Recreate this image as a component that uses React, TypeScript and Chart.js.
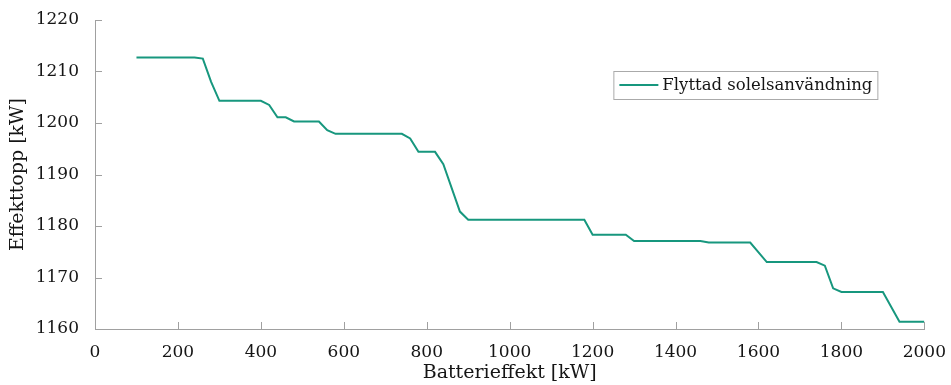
import React, { useEffect, useRef } from "react";
import { Chart, registerables } from "chart.js";

Chart.register(...registerables);

const batteryPower = [100, 240, 260, 280, 300, 400, 420, 440, 460, 480, 540, 560, 580, 740, 760, 780, 820, 840, 880, 900, 1180, 1200, 1280, 1300, 1460, 1480, 1580, 1620, 1740, 1760, 1780, 1800, 1900, 1940, 2000];
const peakPower = [1212.7, 1212.7, 1212.5, 1208, 1204.3, 1204.3, 1203.5, 1201.1, 1201.1, 1200.3, 1200.3, 1198.6, 1197.9, 1197.9, 1197.0, 1194.4, 1194.4, 1192.0, 1182.8, 1181.2, 1181.2, 1178.3, 1178.3, 1177.1, 1177.1, 1176.8, 1176.8, 1173.0, 1173.0, 1172.3, 1167.9, 1167.2, 1167.2, 1161.4, 1161.4];
const seriesLabel = "Flyttad solelsanvändning";
const xTitle = "Batterieffekt [kW]";
const yTitle = "Effekttopp [kW]";

const FONT = "'DejaVu Serif', serif";
const LINE_COLOR = "#17977e";
const AXIS_COLOR = "#a0a0a0";
const TEXT_COLOR = "#151515";

const innerTicksPlugin = {
  id: "innerTicks",
  afterDraw(chart: any) {
    const { ctx, chartArea } = chart;
    const xs = chart.scales.x;
    const ys = chart.scales.y;
    ctx.save();
    ctx.strokeStyle = AXIS_COLOR;
    ctx.lineWidth = 1;
    ctx.beginPath();
    xs.ticks.forEach((t: any) => {
      const px = Math.round(xs.getPixelForValue(t.value)) + 0.5;
      ctx.moveTo(px, chartArea.bottom);
      ctx.lineTo(px, chartArea.bottom - 7);
    });
    ys.ticks.forEach((t: any) => {
      const py = Math.round(ys.getPixelForValue(t.value)) + 0.5;
      ctx.moveTo(chartArea.left, py);
      ctx.lineTo(chartArea.left + 7, py);
    });
    ctx.stroke();

    // legend box
    const ds = chart.data.datasets[0];
    const boxR = chartArea.right - 47;
    const boxT = chartArea.top + 51;
    const boxW = 264;
    const boxH = 28;
    const boxL = boxR - boxW;
    ctx.fillStyle = "#ffffff";
    ctx.fillRect(boxL, boxT, boxW, boxH);
    ctx.strokeStyle = "#aaaaaa";
    ctx.strokeRect(boxL + 0.5, boxT + 0.5, boxW, boxH);
    ctx.strokeStyle = LINE_COLOR;
    ctx.lineWidth = 2;
    ctx.beginPath();
    ctx.moveTo(boxL + 6, boxT + 14);
    ctx.lineTo(boxL + 45, boxT + 14);
    ctx.stroke();
    ctx.fillStyle = TEXT_COLOR;
    ctx.font = `16.5px ${FONT}`;
    ctx.textBaseline = "middle";
    ctx.textAlign = "left";
    ctx.fillText(ds.label, boxL + 49, boxT + 15);
    ctx.restore();
  },
};

const plain = (v: any) => String(v);

export default function App() {
  const ref = useRef<HTMLCanvasElement | null>(null);
  useEffect(() => {
    if (!ref.current) return;
    const chart = new Chart(ref.current, {
      type: "line",
      data: {
        datasets: [
          {
            label: seriesLabel,
            data: batteryPower.map((x, i) => ({ x, y: peakPower[i] })),
            borderColor: LINE_COLOR,
            backgroundColor: LINE_COLOR,
            borderWidth: 2,
            pointRadius: 0,
            tension: 0,
            fill: false,
          },
        ],
      },
      options: {
        animation: false,
        responsive: true,
        maintainAspectRatio: false,
        layout: { padding: { top: 20, right: 26, left: 0, bottom: 0 } },
        plugins: { legend: { display: false }, tooltip: { enabled: false } },
        scales: {
          x: {
            type: "linear",
            min: 0,
            max: 2000,
            ticks: { stepSize: 200, color: TEXT_COLOR, font: { family: FONT, size: 17 }, padding: 5, maxRotation: 0, autoSkip: false, callback: plain },
            grid: { display: false },
            border: { display: true, color: AXIS_COLOR, width: 1 },
            title: { display: true, text: xTitle, color: TEXT_COLOR, font: { family: FONT, size: 19 }, padding: { top: 0, bottom: 1 } },
            afterFit: (s: any) => { s.height = 56; },
          },
          y: {
            type: "linear",
            min: 1160,
            max: 1220,
            ticks: { stepSize: 10, color: TEXT_COLOR, font: { family: FONT, size: 17 }, padding: 8, callback: plain },
            grid: { display: false },
            border: { display: true, color: AXIS_COLOR, width: 1 },
            title: { display: true, text: yTitle, color: TEXT_COLOR, font: { family: FONT, size: 19 }, padding: { top: 7, bottom: 0 } },
            afterFit: (s: any) => { s.width = 95; },
          },
        },
      },
      plugins: [innerTicksPlugin],
    });
    return () => chart.destroy();
  }, []);
  return (
    <div style={{ position: "fixed", left: 0, top: 0, width: 951, height: 385, background: "#fff" }}>
      <canvas ref={ref} />
    </div>
  );
}
